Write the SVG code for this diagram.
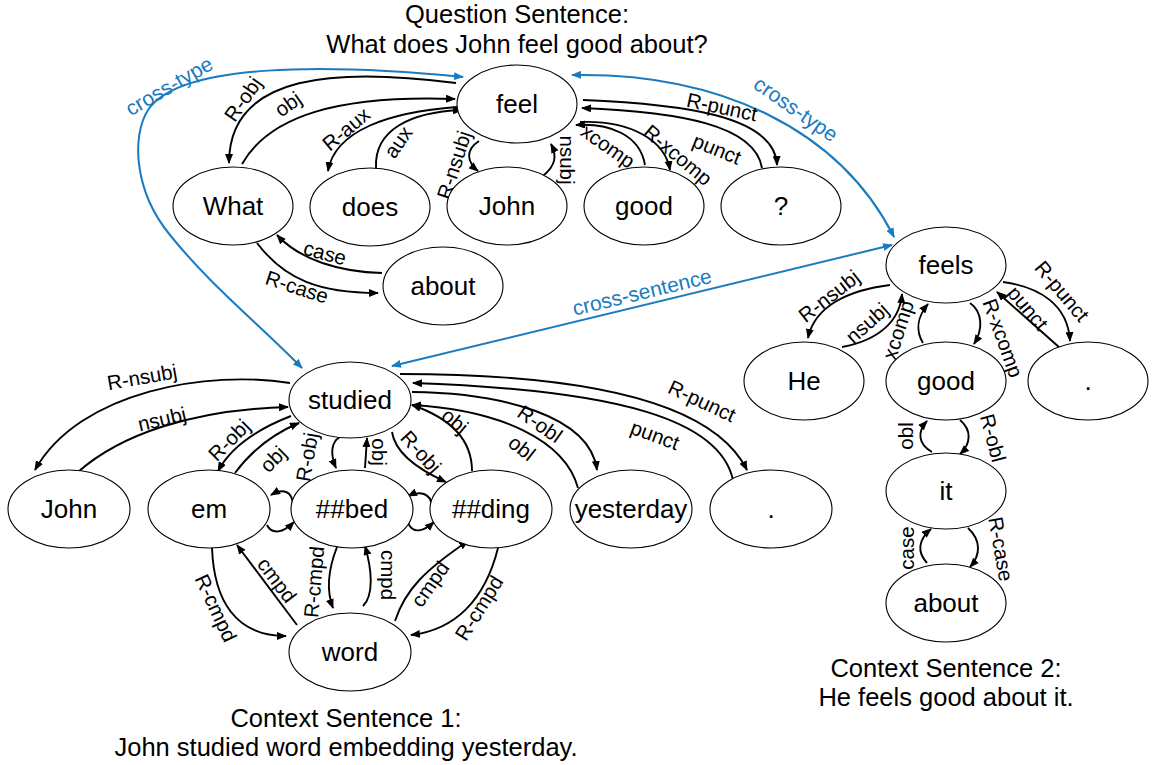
<svg xmlns="http://www.w3.org/2000/svg" width="1153" height="765" viewBox="0 0 1153 765">
<style>
.n ellipse{fill:#fff;stroke:#000;stroke-width:1.1}
.n text{font-family:"Liberation Sans",Arial,sans-serif;font-size:26px;text-anchor:middle;fill:#000}
.e path{fill:none;stroke:#000;stroke-width:1.9;marker-end:url(#ah)}
.b path{fill:none;stroke:#1a7bbf;stroke-width:2;marker-end:url(#bh);marker-start:url(#bh)}
.l{font-family:"Liberation Sans",Arial,sans-serif;font-size:20.5px;text-anchor:middle;fill:#000}
.bl{font-family:"Liberation Sans",Arial,sans-serif;font-size:21px;text-anchor:middle;fill:#1a7bbf}
.t{font-family:"Liberation Sans",Arial,sans-serif;font-size:25.5px;text-anchor:middle;fill:#000}
</style>
<defs>
<marker id="ah" viewBox="0 0 10 8" refX="9" refY="4" markerWidth="10" markerHeight="8" markerUnits="userSpaceOnUse" orient="auto"><path d="M0,0 L10,4 L0,8 z" fill="#000"/></marker>
<marker id="bh" viewBox="0 0 10 8" refX="9" refY="4" markerWidth="10" markerHeight="8" markerUnits="userSpaceOnUse" orient="auto-start-reverse"><path d="M0,0 L10,4 L0,8 z" fill="#1a7bbf"/></marker>
</defs>

<g id="titles">
<text class="t" x="517" y="23">Question Sentence:</text>
<text class="t" x="517" y="53">What does John feel good about?</text>
<text class="t" x="346" y="727">Context Sentence 1:</text>
<text class="t" x="346" y="756">John studied word embedding yesterday.</text>
<text class="t" x="946" y="677">Context Sentence 2:</text>
<text class="t" x="946" y="706">He feels good about it.</text>
</g>

<g id="connectors">
<g class="e">
<!-- question -->
<path d="M456 83 C340 68 229 72 229 163"/>
<path d="M242 164 C270 115 340 95 455 99"/>
<path d="M457 107 C390 112 335 130 328 171"/>
<path d="M376 168 C374 130 410 112 462 110"/>
<path d="M479 141 C465 150 467 162 478 171"/>
<path d="M543 176 C556 165 557 156 551 144"/>
<path d="M645 165 C640 135 610 123 576 125"/>
<path d="M580 122 C630 120 665 140 670 170"/>
<path d="M583 100 C680 104 775 115 777 165"/>
<path d="M762 168 C755 125 680 112 582 108"/>
<path d="M382 273 C340 272 300 260 277 235"/>
<path d="M257 243 C285 280 320 293 378 293"/>
<!-- context 2 -->
<path d="M890 285 C850 290 815 305 808 338"/>
<path d="M842 347 C880 340 900 320 902 294"/>
<path d="M923 343 C915 330 918 316 928 304"/>
<path d="M970 303 C983 312 983 330 974 344"/>
<path d="M1003 282 C1040 287 1068 305 1070 341"/>
<path d="M1060 348 L997 292"/>
<path d="M932 452 C918 444 917 432 927 421"/>
<path d="M960 420 C972 430 971 444 960 454"/>
<path d="M927 563 C917 552 918 540 931 529"/>
<path d="M968 528 C981 540 981 555 970 567"/>
<!-- context 1 -->
<path d="M290 383 C210 370 80 390 35 470"/>
<path d="M78 472 C120 435 190 410 288 407"/>
<path d="M291 416 C260 428 232 445 218 471"/>
<path d="M235 473 C252 450 275 433 299 423"/>
<path d="M293 504 C292 491 283 488 271 495"/>
<path d="M267 525 C272 535 283 533 294 522"/>
<path d="M432 506 C431 494 421 490 408 496"/>
<path d="M408 523 C413 534 423 532 434 522"/>
<path d="M340 437 C331 442 330 454 336 468"/>
<path d="M365 468 L367 438"/>
<path d="M392 432 C395 452 415 468 446 482"/>
<path d="M472 471 C472 440 450 418 412 405"/>
<path d="M412 392 C500 393 590 415 597 470"/>
<path d="M578 488 C565 440 500 410 412 405"/>
<path d="M400 374 C560 374 710 395 747 470"/>
<path d="M733 480 C720 420 620 390 413 383"/>
<path d="M212 548 C214 600 235 636 286 636"/>
<path d="M297 625 L237 545"/>
<path d="M337 547 C328 570 326 590 333 608"/>
<path d="M363 606 C374 595 372 570 365 546"/>
<path d="M395 621 C405 590 425 570 468 541"/>
<path d="M498 548 C485 600 455 630 411 635"/>
</g>
<g class="b">
<path d="M463 77 C330 64 180 62 148 110 C132 135 133 190 170 235 C210 285 260 325 302 368"/>
<path d="M572 75 C720 72 840 130 894 237"/>
<path d="M392 366 L892 245"/>
</g>
<g id="edge-labels">
<text class="l" transform="translate(243,99) rotate(-55)" dy="0.35em">R-obj</text>
<text class="l" transform="translate(288,104) rotate(-35)" dy="0.35em">obj</text>
<text class="l" transform="translate(346,129) rotate(-40)" dy="0.35em">R-aux</text>
<text class="l" transform="translate(398,142) rotate(-55)" dy="0.35em">aux</text>
<text class="l" transform="translate(454,165) rotate(-72)" dy="0.35em">R-nsubj</text>
<text class="l" transform="translate(567,160) rotate(90)" dy="0.35em">nsubj</text>
<text class="l" transform="translate(608,146) rotate(35)" dy="0.35em">xcomp</text>
<text class="l" transform="translate(678,155) rotate(40)" dy="0.35em">R-xcomp</text>
<text class="l" transform="translate(722,107) rotate(12)" dy="0.35em">R-punct</text>
<text class="l" transform="translate(717,149) rotate(22)" dy="0.35em">punct</text>
<text class="l" transform="translate(325,253) rotate(15)" dy="0.35em">case</text>
<text class="l" transform="translate(297,287) rotate(18)" dy="0.35em">R-case</text>
<text class="l" transform="translate(829,296) rotate(-38)" dy="0.35em">R-nsubj</text>
<text class="l" transform="translate(867,323) rotate(-42)" dy="0.35em">nsubj</text>
<text class="l" transform="translate(898,330) rotate(-72)" dy="0.35em">xcomp</text>
<text class="l" transform="translate(1003,338) rotate(70)" dy="0.35em">R-xcomp</text>
<text class="l" transform="translate(1062,291) rotate(50)" dy="0.35em">R-punct</text>
<text class="l" transform="translate(1028,308) rotate(50)" dy="0.35em">punct</text>
<text class="l" transform="translate(906,436) rotate(-90)" dy="0.35em">obl</text>
<text class="l" transform="translate(993,438) rotate(75)" dy="0.35em">R-obl</text>
<text class="l" transform="translate(907,548) rotate(-90)" dy="0.35em">case</text>
<text class="l" transform="translate(1001,549) rotate(80)" dy="0.35em">R-case</text>
<text class="l" transform="translate(142,377) rotate(-10)" dy="0.35em">R-nsubj</text>
<text class="l" transform="translate(162,419) rotate(-13)" dy="0.35em">nsubj</text>
<text class="l" transform="translate(229,440) rotate(-45)" dy="0.35em">R-obj</text>
<text class="l" transform="translate(273,459) rotate(-45)" dy="0.35em">obj</text>
<text class="l" transform="translate(307,457) rotate(-80)" dy="0.35em">R-obj</text>
<text class="l" transform="translate(379,452) rotate(90)" dy="0.35em">obj</text>
<text class="l" transform="translate(421,452) rotate(48)" dy="0.35em">R-obj</text>
<text class="l" transform="translate(455,421) rotate(40)" dy="0.35em">obj</text>
<text class="l" transform="translate(540,424) rotate(35)" dy="0.35em">R-obl</text>
<text class="l" transform="translate(522,448) rotate(38)" dy="0.35em">obl</text>
<text class="l" transform="translate(702,401) rotate(25)" dy="0.35em">R-punct</text>
<text class="l" transform="translate(655,435) rotate(20)" dy="0.35em">punct</text>
<text class="l" transform="translate(216,608) rotate(65)" dy="0.35em">R-cmpd</text>
<text class="l" transform="translate(277,580) rotate(53)" dy="0.35em">cmpd</text>
<text class="l" transform="translate(314,582) rotate(-85)" dy="0.35em">R-cmpd</text>
<text class="l" transform="translate(388,575) rotate(90)" dy="0.35em">cmpd</text>
<text class="l" transform="translate(430,584) rotate(-55)" dy="0.35em">cmpd</text>
<text class="l" transform="translate(479,608) rotate(-58)" dy="0.35em">R-cmpd</text>
<text class="bl" transform="translate(169,86) rotate(-30)" dy="0.35em">cross-type</text>
<text class="bl" transform="translate(796,109) rotate(35)" dy="0.35em">cross-type</text>
<text class="bl" transform="translate(642,292) rotate(-13.5)" dy="0.35em">cross-sentence</text>
</g>
</g>

<g id="q-feel" class="n"><ellipse cx="517" cy="104" rx="60" ry="39"/><text x="517" y="113">feel</text></g>
<g id="q-what" class="n"><ellipse cx="233" cy="206" rx="60" ry="39"/><text x="233" y="215">What</text></g>
<g id="q-does" class="n"><ellipse cx="370" cy="207" rx="60" ry="39"/><text x="370" y="216">does</text></g>
<g id="q-john" class="n"><ellipse cx="507" cy="206" rx="60" ry="39"/><text x="507" y="215">John</text></g>
<g id="q-good" class="n"><ellipse cx="644" cy="206" rx="60" ry="39"/><text x="644" y="215">good</text></g>
<g id="q-qmark" class="n"><ellipse cx="781" cy="206" rx="60" ry="39"/><text x="781" y="215">?</text></g>
<g id="q-about" class="n"><ellipse cx="443" cy="286" rx="60" ry="39"/><text x="443" y="295">about</text></g>

<g id="c2-feels" class="n"><ellipse cx="946" cy="265" rx="60" ry="38"/><text x="946" y="274">feels</text></g>
<g id="c2-he" class="n"><ellipse cx="804" cy="381" rx="60" ry="39"/><text x="804" y="390">He</text></g>
<g id="c2-good" class="n"><ellipse cx="946" cy="381" rx="60" ry="39"/><text x="946" y="390">good</text></g>
<g id="c2-period" class="n"><ellipse cx="1088" cy="381" rx="60" ry="39"/><text x="1088" y="390">.</text></g>
<g id="c2-it" class="n"><ellipse cx="946" cy="491" rx="60" ry="38"/><text x="946" y="500">it</text></g>
<g id="c2-about" class="n"><ellipse cx="946" cy="603" rx="60" ry="39"/><text x="946" y="612">about</text></g>

<g id="c1-studied" class="n"><ellipse cx="350" cy="400" rx="61" ry="38"/><text x="350" y="409">studied</text></g>
<g id="c1-john" class="n"><ellipse cx="69" cy="509" rx="61" ry="39"/><text x="69" y="518">John</text></g>
<g id="c1-em" class="n"><ellipse cx="209" cy="509" rx="61" ry="39"/><text x="209" y="518">em</text></g>
<g id="c1-bed" class="n"><ellipse cx="352" cy="509" rx="61" ry="39"/><text x="352" y="518">##bed</text></g>
<g id="c1-ding" class="n"><ellipse cx="491" cy="509" rx="61" ry="39"/><text x="491" y="518">##ding</text></g>
<g id="c1-yesterday" class="n"><ellipse cx="631" cy="509" rx="61" ry="39"/><text x="631" y="518">yesterday</text></g>
<g id="c1-period" class="n"><ellipse cx="771" cy="509" rx="61" ry="39"/><text x="771" y="518">.</text></g>
<g id="c1-word" class="n"><ellipse cx="350" cy="652" rx="61" ry="39"/><text x="350" y="661">word</text></g>
</svg>
